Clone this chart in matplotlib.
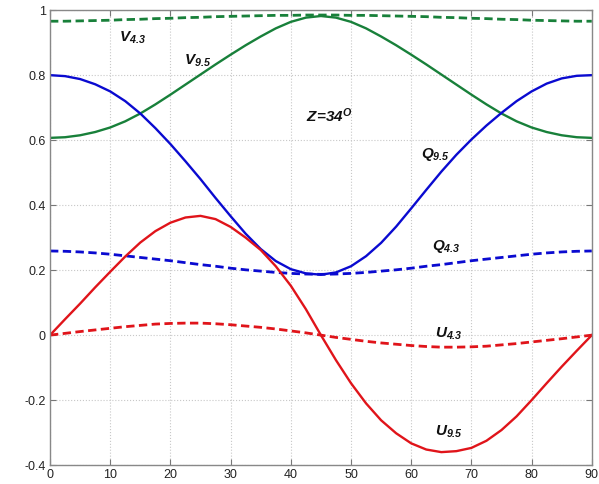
#!/usr/bin/env python3

import matplotlib
matplotlib.use('Agg')
from matplotlib import pyplot
from matplotlib.ticker import MultipleLocator, FuncFormatter


#
# Data (every 2.5 degrees)
#

ANGLE = [0, 2.5, 5, 7.5, 10, 12.5, 15, 17.5, 20, 22.5, 25, 27.5, 30, 32.5, 35, 37.5, 40, 42.5,
         45, 47.5, 50, 52.5, 55, 57.5, 60, 62.5, 65, 67.5, 70, 72.5, 75, 77.5, 80, 82.5, 85, 87.5, 90]

V_95 = [0.607, 0.609, 0.615, 0.625, 0.639, 0.658, 0.682, 0.710, 0.740, 0.771, 0.802, 0.833,
        0.863, 0.892, 0.919, 0.944, 0.964, 0.977, 0.982, 0.977, 0.964, 0.944, 0.919, 0.892,
        0.863, 0.833, 0.802, 0.771, 0.740, 0.710, 0.682, 0.658, 0.639, 0.625, 0.615, 0.609, 0.607]
V_43 = [0.966, 0.966, 0.967, 0.968, 0.969, 0.971, 0.972, 0.974, 0.975, 0.977, 0.978, 0.980,
        0.981, 0.982, 0.983, 0.984, 0.984, 0.985, 0.985, 0.985, 0.984, 0.984, 0.983, 0.982,
        0.981, 0.980, 0.978, 0.977, 0.975, 0.974, 0.972, 0.971, 0.969, 0.968, 0.967, 0.966, 0.966]
Q_95 = [0.800, 0.797, 0.788, 0.772, 0.750, 0.720, 0.682, 0.637, 0.588, 0.535, 0.480, 0.422,
        0.366, 0.312, 0.265, 0.228, 0.203, 0.190, 0.186, 0.193, 0.212, 0.243, 0.284, 0.334,
        0.390, 0.447, 0.503, 0.555, 0.602, 0.645, 0.684, 0.720, 0.750, 0.774, 0.790, 0.798, 0.800]
Q_43 = [0.259, 0.258, 0.256, 0.253, 0.249, 0.244, 0.239, 0.234, 0.229, 0.223, 0.217, 0.212,
        0.206, 0.201, 0.197, 0.193, 0.190, 0.188, 0.187, 0.188, 0.190, 0.193, 0.197, 0.201,
        0.206, 0.212, 0.217, 0.223, 0.229, 0.234, 0.239, 0.244, 0.249, 0.253, 0.256, 0.258, 0.259]
U_95 = [0.000, 0.049, 0.097, 0.147, 0.195, 0.242, 0.285, 0.320, 0.346, 0.362, 0.367, 0.357,
        0.333, 0.300, 0.262, 0.212, 0.152, 0.080, 0.000, -0.077, -0.148, -0.210, -0.262, -0.302,
        -0.333, -0.352, -0.360, -0.357, -0.347, -0.325, -0.292, -0.250, -0.200, -0.148, -0.097,
        -0.048, 0.000]
U_43 = [0.000, 0.0055, 0.011, 0.016, 0.021, 0.026, 0.030, 0.034, 0.036, 0.037, 0.037, 0.035,
        0.032, 0.028, 0.024, 0.019, 0.013, 0.007, 0.000, -0.007, -0.013, -0.019, -0.024, -0.028,
        -0.032, -0.035, -0.037, -0.037, -0.036, -0.034, -0.030, -0.026, -0.021, -0.016, -0.011,
        -0.0055, 0.000]

# label text, x, y
LABELS = [
	(r'$V_{4.3}$', 11.5, 0.915),
	(r'$V_{9.5}$', 22.3, 0.845),
	(r'$Z\!=\!34^{O}$', 42.6, 0.675),
	(r'$Q_{9.5}$', 61.7, 0.555),
	(r'$Q_{4.3}$', 63.4, 0.272),
	(r'$U_{4.3}$', 63.9, 0.004),
	(r'$U_{9.5}$', 63.9, -0.298),
]

GREEN = '#18803a'
BLUE = '#0a0ad0'
RED = '#e0141a'

pyplot.rcParams['font.family'] = 'Liberation Sans'
pyplot.rcParams['mathtext.fontset'] = 'custom'
pyplot.rcParams['mathtext.it'] = 'Liberation Sans:italic:bold'
pyplot.rcParams['mathtext.rm'] = 'Liberation Sans:italic:bold'

fig = pyplot.figure(figsize=(5.99, 4.84), dpi=100)
ax = fig.add_axes([0.0835, 0.039, 0.9045, 0.94])

dash = (0, (3, 1.6))
ax.plot(ANGLE, V_43, color=GREEN, linewidth=2.0, linestyle=dash)
ax.plot(ANGLE, V_95, color=GREEN, linewidth=1.7)
ax.plot(ANGLE, Q_43, color=BLUE, linewidth=2.0, linestyle=dash)
ax.plot(ANGLE, Q_95, color=BLUE, linewidth=1.7)
ax.plot(ANGLE, U_43, color=RED, linewidth=2.0, linestyle=dash)
ax.plot(ANGLE, U_95, color=RED, linewidth=1.7)

for text, x, y in LABELS:
	ax.text(x, y, text, fontsize=11, color='#111111', va='center', ha='left')

ax.set_xlim(0, 90)
ax.set_ylim(-0.4, 1.0)
ax.xaxis.set_major_locator(MultipleLocator(10))
ax.yaxis.set_major_locator(MultipleLocator(0.2))
ax.yaxis.set_major_formatter(FuncFormatter(lambda v, p: ('%g' % round(v, 1))))
ax.grid(True, color='#c8c8c8', linestyle=':', linewidth=0.8)
ax.tick_params(direction='in', top=True, right=True, length=4, width=0.8,
               color='#777777', labelsize=9, labelcolor='#222222', pad=3)
for spine in ax.spines.values():
	spine.set_color('#888888')
	spine.set_linewidth(1.0)

pyplot.savefig('out.png', dpi=100)
